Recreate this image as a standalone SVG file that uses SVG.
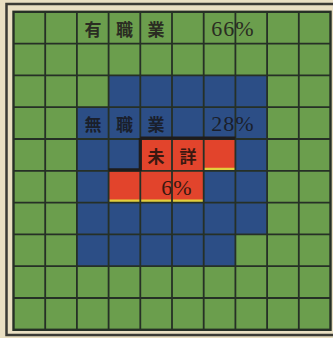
<svg xmlns="http://www.w3.org/2000/svg" width="333" height="338" viewBox="0 0 333 338">
<style>
.cjk{font-family:"Noto Sans CJK JP","Noto Sans CJK SC",sans-serif;font-size:17px;font-weight:bold;text-anchor:middle;dominant-baseline:central}
.num{font-family:"Liberation Serif",serif;font-size:22px;text-anchor:middle;dominant-baseline:central;letter-spacing:1px}
.grid{stroke:#263026;stroke-width:1.8;fill:none}
</style>
<rect width="333" height="338" fill="#e9dfc2"/>
<rect x="6.5" y="4" width="340" height="331" fill="none" stroke="#3a3a34" stroke-width="2.5"/>
<g id="green-area"><rect x="13.5" y="11.8" width="317" height="318" fill="#6b9e4d"/></g>
<g id="blue-area"><path d="M108.6,75.4 H267.1 V234.4 H235.4 V266.2 H76.9 V107.2 H108.6 Z" fill="#2c4e86"/></g>
<g id="red-area">
<path d="M140.3,139 H235.4 V170.8 H203.7 V202.6 H108.6 V170.8 H140.3 Z" fill="#e2442c"/>
<path d="M108.6,200.8 H203.7 M203.7,169 H235.4" stroke="#e3cf3c" stroke-width="2.4"/>
</g>
<g id="grid" class="grid">
<path d="M45.2,11.8V329.8 M76.9,11.8V329.8 M108.6,11.8V329.8 M140.3,11.8V329.8 M172,11.8V329.8 M203.7,11.8V329.8 M235.4,11.8V329.8 M267.1,11.8V329.8 M298.8,11.8V329.8"/>
<path d="M13.5,43.6H330.5 M13.5,75.4H330.5 M13.5,107.2H330.5 M13.5,139H330.5 M13.5,170.8H330.5 M13.5,202.6H330.5 M13.5,234.4H330.5 M13.5,266.2H330.5 M13.5,298H330.5"/>
<rect x="13.5" y="11.8" width="317" height="318" stroke-width="2.4"/>
<path d="M140.3,138.2 H235.4 M108.6,169.8 H140.3 M140.3,138 V171" stroke="#1e1c1c" stroke-width="3.2"/>
</g>
<g id="label-employed" fill="#2a2c22">
<text class="cjk" x="93" y="28">有</text>
<text class="cjk" x="124.5" y="28">職</text>
<text class="cjk" x="156" y="28">業</text>
<text class="num" x="233" y="28">66%</text>
</g>
<g id="label-unemployed" fill="#1a1f2c">
<text class="cjk" x="93" y="123">無</text>
<text class="cjk" x="124.5" y="123">職</text>
<text class="cjk" x="156" y="123">業</text>
<text class="num" x="233" y="123">28%</text>
</g>
<g id="label-unknown" fill="#3a1810">
<text class="cjk" x="156" y="155">未</text>
<text class="cjk" x="188" y="155">詳</text>
<text class="num" x="177" y="187">6%</text>
</g>
</svg>
